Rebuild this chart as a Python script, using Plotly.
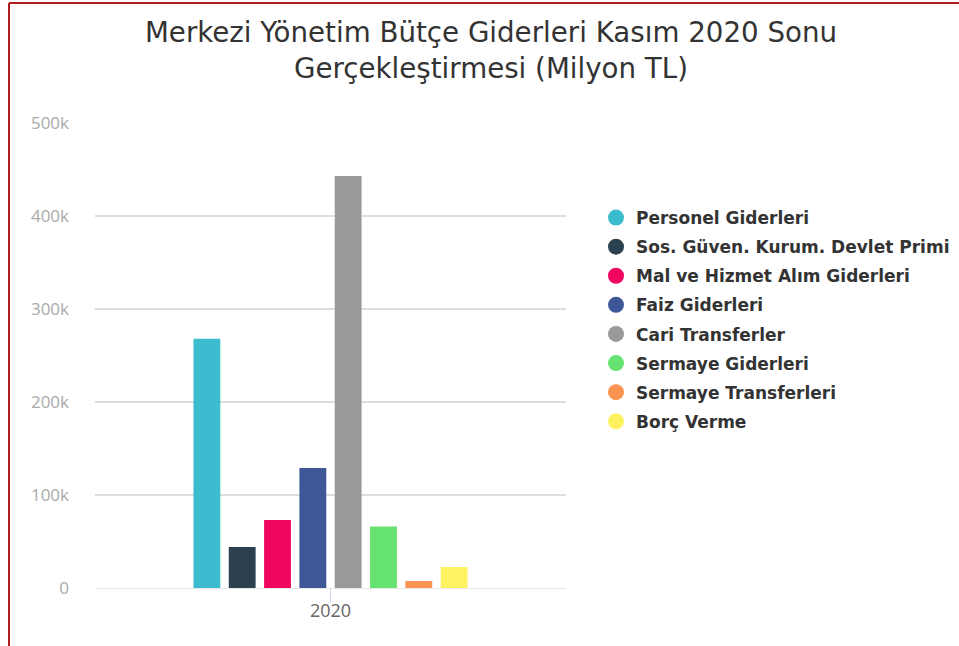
import plotly.graph_objects as go

# Data
YEARS = ["2020"]
SERIES = [
    "Personel Giderleri",
    "Sos. Güven. Kurum. Devlet Primi",
    "Mal ve Hizmet Alım Giderleri",
    "Faiz Giderleri",
    "Cari Transferler",
    "Sermaye Giderleri",
    "Sermaye Transferleri",
    "Borç Verme",
]
VALUES = [268000, 44000, 73000, 129000, 443000, 66000, 7500, 22500]
COLORS = ["#3dbcd0", "#2b4150", "#f0065e", "#3e5796", "#999999", "#66e272", "#fd9350", "#fff261"]

TITLE = "Merkezi Yönetim Bütçe Giderleri Kasım 2020 Sonu<br>Gerçekleştirmesi (Milyon TL)"

W, H = 959, 646
L, R, T, B = 95, 393, 123, 58
PW, PH = W - L - R, H - T - B

fig = go.Figure()
for name, val, col in zip(SERIES, VALUES, COLORS):
    fig.add_trace(go.Bar(
        x=YEARS, y=[val], name=name,
        marker=dict(color=col, line=dict(width=0)),
        showlegend=False,
    ))
# legend entries with round markers
for i, (name, col) in enumerate(zip(SERIES, COLORS)):
    fig.add_trace(go.Scatter(
        x=[None], y=[None], name=name, mode="markers", legendgroup=f"g{i}",
        marker=dict(color=col, size=17, symbol="circle"),
    ))


def px_x(p):
    return (p - L) / PW


def px_y(p):
    return (H - B - p) / PH


border = "#b01e22"
fig.update_layout(
    width=W, height=H,
    margin=dict(l=L, r=R, t=T, b=B, autoexpand=False),
    paper_bgcolor="white", plot_bgcolor="white",
    barmode="group", bargap=0.4, bargroupgap=0.24,
    title=dict(text=TITLE, x=491 / W, xanchor="center", xref="container",
               y=1 - 42 / H, yanchor="middle",
               font=dict(family="DejaVu Sans, sans-serif", size=27.7, color="#333333")),
    font=dict(family="Open Sans, sans-serif"),
    xaxis=dict(type="category", showgrid=False, showline=True, linecolor="#e6e6e6",
               ticks="outside", ticklen=14, tickcolor="#ccd6eb", ticklabelstandoff=-8,
               tickfont=dict(size=18, color="#666666")),
    yaxis=dict(range=[0, 500000], dtick=100000, tickformat="~s", showgrid=True,
               gridcolor="#dddddd", gridwidth=1.5, zeroline=False, showline=False,
               ticklabelstandoff=25,
               tickfont=dict(size=17, color="#aaaaaa")),
    legend=dict(x=px_x(596), y=px_y(200), xanchor="left", yanchor="top",
                traceorder="grouped", tracegroupgap=4,
                font=dict(family="DejaVu Sans, sans-serif", size=17, color="#333333", weight="bold"),
                itemwidth=30, bgcolor="rgba(0,0,0,0)"),
    shapes=[
        dict(type="line", xref="paper", yref="paper", x0=px_x(9), x1=px_x(9),
             y0=px_y(H + 10), y1=px_y(3), line=dict(color=border, width=2)),
        dict(type="line", xref="paper", yref="paper", x0=px_x(9), x1=px_x(W + 10),
             y0=px_y(3), y1=px_y(3), line=dict(color=border, width=2)),
    ],
)

fig.write_html("out.html", config={"displayModeBar": False},
               post_script="document.body.style.margin='0px';")
